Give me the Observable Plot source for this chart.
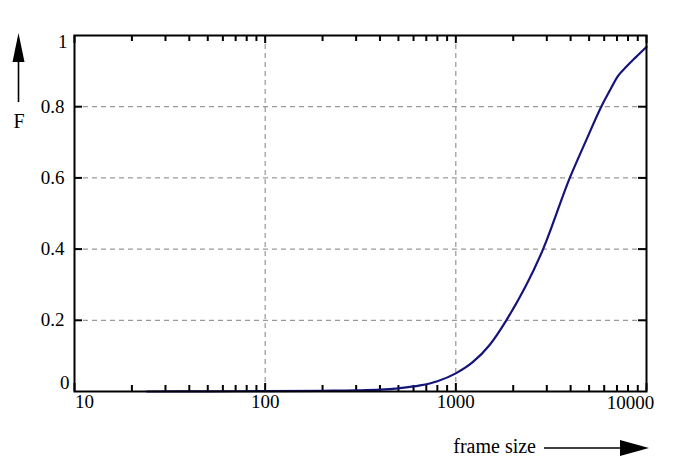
<!DOCTYPE html>
<html>
<head>
<meta charset="utf-8">
<script src="https://cdn.jsdelivr.net/npm/d3@7"></script>
<script src="https://cdn.jsdelivr.net/npm/@observablehq/plot@0.6"></script>
<style>
  html, body { margin: 0; padding: 0; background: #fff; }
  #chart svg { display: block; }
</style>
</head>
<body>
<div id="chart"></div>
<script>
// Data
const frameSize = [24, 50, 100, 200, 300, 400, 500, 650, 800, 1000, 1230, 1500, 1840, 2870, 3960, 4830, 5790, 6400, 7080, 7830, 8830, 10000];
const F         = [0, 0.0005, 0.001, 0.002, 0.003, 0.005, 0.009, 0.017, 0.029, 0.051, 0.083, 0.13, 0.2, 0.4, 0.6, 0.706, 0.8, 0.844, 0.886, 0.912, 0.94, 0.968];

const xMajor = [10, 100, 1000, 10000];
const xLabels = ["10", "100", "1000", "10000"];
const xMinor = [20,30,40,50,60,70,80,90,200,300,400,500,600,700,800,900,2000,3000,4000,5000,6000,7000,8000,9000];
const xGrid = [100, 1000];
const yTicks = [0, 0.2, 0.4, 0.6, 0.8, 1];
const yLabels = ["0", "0.2", "0.4", "0.6", "0.8", "1"];
const yGrid = [0.2, 0.4, 0.6, 0.8];

const data = frameSize.map((x, i) => ({x, F: F[i]}));
const xLab = xMajor.map((v, i) => ({v, t: xLabels[i]}));
const yLab = yTicks.map((v, i) => ({v, t: yLabels[i]}));

const font = "Liberation Serif, Times New Roman, serif";
const grid = {stroke: "#808080", strokeWidth: 1, strokeDasharray: "5,4"};

const W = 698, H = 467, mT = 35, mR = 52, mB = 76, mL = 74;
const innerH = H - mT - mB, innerW = W - mL - mR;
const tk = {stroke: "#000", strokeWidth: 2};

const chart = Plot.plot({
  width: W,
  height: H,
  marginTop: mT,
  marginRight: mR,
  marginBottom: mB,
  marginLeft: mL,
  style: {fontFamily: font, fontSize: "19px", background: "#fff", color: "#000"},
  x: {type: "log", domain: [10, 10000], axis: null},
  y: {domain: [0, 1], axis: null},
  marks: [
    Plot.ruleX(xGrid, grid),
    Plot.ruleY(yGrid, grid),
    // inward ticks (bottom/top, left/right)
    Plot.tickX(xMinor, {x: d => d, insetTop: innerH - 6, ...tk}),
    Plot.tickX(xMinor, {x: d => d, insetBottom: innerH - 6, ...tk}),
    Plot.tickX(xMajor, {x: d => d, insetTop: innerH - 8, ...tk}),
    Plot.tickX(xMajor, {x: d => d, insetBottom: innerH - 8, ...tk}),
    Plot.tickY(yGrid, {y: d => d, insetRight: innerW - 8, ...tk}),
    Plot.tickY(yGrid, {y: d => d, insetLeft: innerW - 8, ...tk}),
    // x tick labels
    Plot.text(xLab.slice(1, 3), {x: "v", text: "t", frameAnchor: "bottom", dy: 16, fontSize: 19, fill: "#000"}),
    Plot.text(xLab.slice(0, 1), {x: "v", text: "t", frameAnchor: "bottom", dy: 16, dx: 10, fontSize: 19, fill: "#000"}),
    Plot.text(xLab.slice(3), {x: "v", text: "t", frameAnchor: "bottom", dy: 17, dx: -16, fontSize: 19, fill: "#000"}),
    // y tick labels
    Plot.text(yLab.slice(1, 5), {y: "v", text: "t", frameAnchor: "left", dx: -10, textAnchor: "end", fontSize: 19, fill: "#000"}),
    Plot.text(yLab.slice(0, 1), {y: "v", text: "t", frameAnchor: "left", dx: -5, dy: -9, textAnchor: "end", fontSize: 19, fill: "#000"}),
    Plot.text(yLab.slice(5), {y: "v", text: "t", frameAnchor: "left", dx: -7, dy: 6, textAnchor: "end", fontSize: 19, fill: "#000"}),
    Plot.line(data, {x: "x", y: "F", stroke: "#14147a", strokeWidth: 2.2, curve: "monotone-x"}),
    Plot.frame({stroke: "#000", strokeWidth: 2})
  ]
});

document.getElementById("chart").appendChild(chart);

// axis arrows and axis titles
const svg = d3.select(chart);
const g = svg.append("g");
g.append("line").attr("x1", 18.5).attr("y1", 58).attr("x2", 18.5).attr("y2", 102)
  .attr("stroke", "#000").attr("stroke-width", 1.6);
g.append("path").attr("d", "M18.5,33 L12.5,62 L24.5,62 Z").attr("fill", "#000");
g.append("text").attr("x", 19).attr("y", 128).attr("text-anchor", "middle")
  .attr("font-family", font).attr("font-size", 20).attr("fill", "#000").text("F");
g.append("line").attr("x1", 544).attr("y1", 448).attr("x2", 624).attr("y2", 448)
  .attr("stroke", "#000").attr("stroke-width", 1.6);
g.append("path").attr("d", "M649,448 L620,440 L620,456 Z").attr("fill", "#000");
g.append("text").attr("x", 536).attr("y", 453).attr("text-anchor", "end")
  .attr("font-family", font).attr("font-size", 20).attr("fill", "#000").text("frame size");
</script>
</body>
</html>
